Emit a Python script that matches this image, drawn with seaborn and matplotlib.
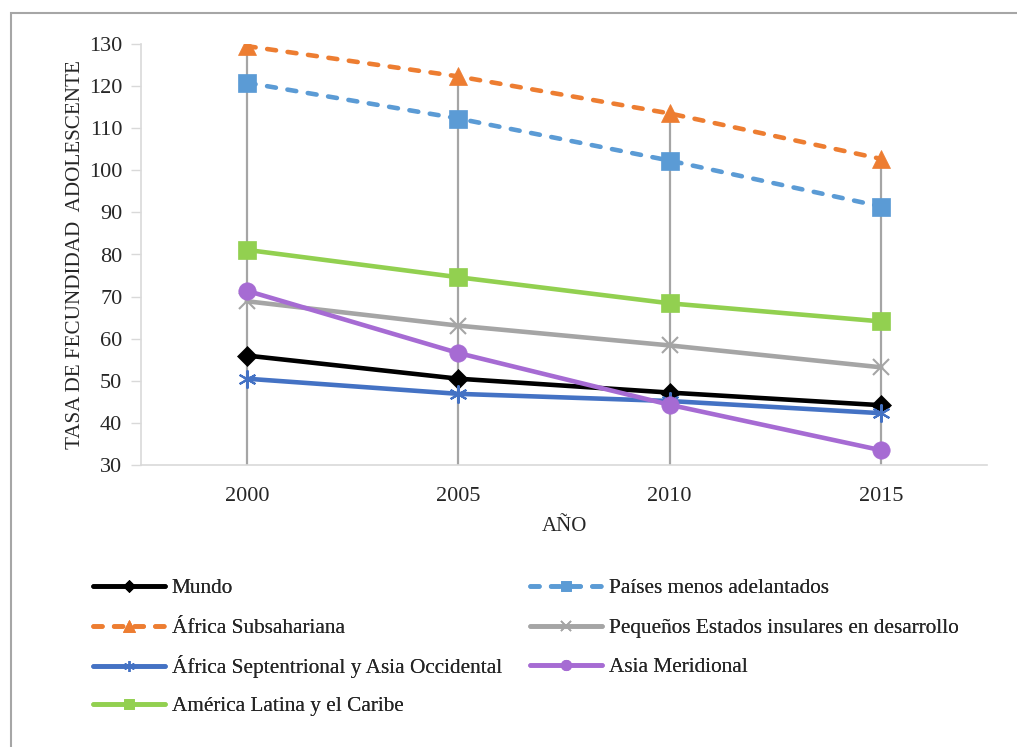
import matplotlib
matplotlib.use("Agg")
import matplotlib.pyplot as plt
import matplotlib.patches as mpatches
import seaborn as sns
import numpy as np
import pandas as pd

years = ["2000", "2005", "2010", "2015"]

mundo = [56.0, 50.5, 47.2, 44.2]
paises_menos = [120.8, 112.3, 102.3, 91.4]
africa_sub = [129.5, 122.3, 113.5, 102.7]
pequenos = [68.9, 63.1, 58.4, 53.2]
africa_sept = [50.5, 46.9, 45.2, 42.3]
asia_mer = [71.4, 56.6, 44.3, 33.5]
america_lat = [81.1, 74.6, 68.4, 64.1]

series_names = [
    "Mundo",
    "Países menos adelantados",
    "África Subsahariana",
    "Pequeños Estados insulares en desarrollo",
    "África Septentrional y Asia Occidental",
    "Asia Meridional",
    "América Latina y el Caribe",
]
series_values = [mundo, paises_menos, africa_sub, pequenos, africa_sept, asia_mer, america_lat]

DASH = (0, (1.95, 2.55))
styles = {
    "Mundo": dict(color="#000000", ls="-", marker="D", ms=10.5),
    "Países menos adelantados": dict(color="#5B9BD5", ls=DASH, marker="s", ms=12.5),
    "África Subsahariana": dict(color="#ED7D31", ls=DASH, marker="^", ms=13.5),
    "Pequeños Estados insulares en desarrollo": dict(color="#A5A5A5", ls="-", marker="x", ms=12),
    "África Septentrional y Asia Occidental": dict(color="#4472C4", ls="-", marker=(6, 2, 0), ms=13),
    "Asia Meridional": dict(color="#A66BD3", ls="-", marker="o", ms=12.5),
    "América Latina y el Caribe": dict(color="#92D050", ls="-", marker="s", ms=12.5),
}

sns.set_theme(style="white")
plt.rcParams["font.family"] = ["Liberation Serif", "DejaVu Serif"]

fig = plt.figure(figsize=(10.17, 7.47), dpi=100)
ax = fig.add_axes([141 / 1017, 1 - 465 / 747, (987 - 141) / 1017, (465 - 44) / 747])

xpos = np.arange(len(years))

# drop lines from highest value down to the axis
tops = np.max(np.array(series_values), axis=0)
ax.vlines(xpos, 30, tops, colors="#A5A5A5", linewidth=1.6, zorder=1)

LW = 3.3
handles = {}
for name, vals in zip(series_names, series_values):
    st = styles[name]
    thin = st["marker"] in ("x", (6, 2, 0))
    df = pd.DataFrame({"x": xpos, "y": vals})
    sns.lineplot(data=df, x="x", y="y", ax=ax, color=st["color"], linewidth=LW,
                 marker=st["marker"], markersize=st["ms"], markeredgecolor=st["color"],
                 markeredgewidth=1.5 if thin else 0.5,
                 zorder=3, legend=False)
    line = ax.lines[-1]
    line.set_linestyle(st["ls"])
    line.set_dash_capstyle("round")
    handles[name] = plt.Line2D([], [], color=st["color"], linewidth=LW, linestyle=st["ls"],
                               marker=st["marker"], markersize=st["ms"] * 0.6,
                               markeredgecolor=st["color"],
                               markeredgewidth=1.2 if thin else 0.5,
                               dash_capstyle="round", solid_capstyle="round")

ax.set_xlim(-0.5, len(years) - 0.5)
ax.set_ylim(30, 130)
ax.set_yticks(np.arange(30, 131, 10))
ax.set_xticks(xpos)
ax.set_xticklabels(years, fontsize=16)
ax.tick_params(axis="y", labelsize=16, length=7, width=1, color="#D9D9D9", direction="out", left=True, pad=6.5)
ax.tick_params(axis="x", length=0, pad=15.5)
for s in ("top", "right"):
    ax.spines[s].set_visible(False)
for s in ("left", "bottom"):
    ax.spines[s].set_color("#D9D9D9")
    ax.spines[s].set_linewidth(1.2)
ax.grid(False)

ax.set_xlabel("AÑO", fontsize=15, labelpad=8.5)
ax.set_ylabel("TASA DE FECUNDIDAD  ADOLESCENTE", fontsize=15.2, labelpad=2.5)

# legend: two columns, row-major order as in the reference
col1 = ["Mundo", "África Subsahariana", "África Septentrional y Asia Occidental", "América Latina y el Caribe"]
col2 = ["Países menos adelantados", "Pequeños Estados insulares en desarrollo", "Asia Meridional"]
row_y = [588, 628, 667, 706]
col_x = [93, 530]

leg_kw = dict(frameon=False, fontsize=15.3, handlelength=3.4, handletextpad=0.3,
              borderaxespad=0, borderpad=0, loc="center left")
for ci, col in enumerate([col1, col2]):
    for ri, name in enumerate(col):
        lg = fig.legend([handles[name]], [name],
                        bbox_to_anchor=(col_x[ci] / 1017, 1 - row_y[ri] / 747), **leg_kw)
        fig.add_artist(lg)

# outer chart border (partially visible)
fig.patches.append(mpatches.Rectangle((11 / 1017, -0.05), 1.2, 1 - 13 / 747 + 0.05,
                                      transform=fig.transFigure, fill=False,
                                      edgecolor="#A6A6A6", linewidth=1.5))

fig.savefig("out.png", dpi=100)
